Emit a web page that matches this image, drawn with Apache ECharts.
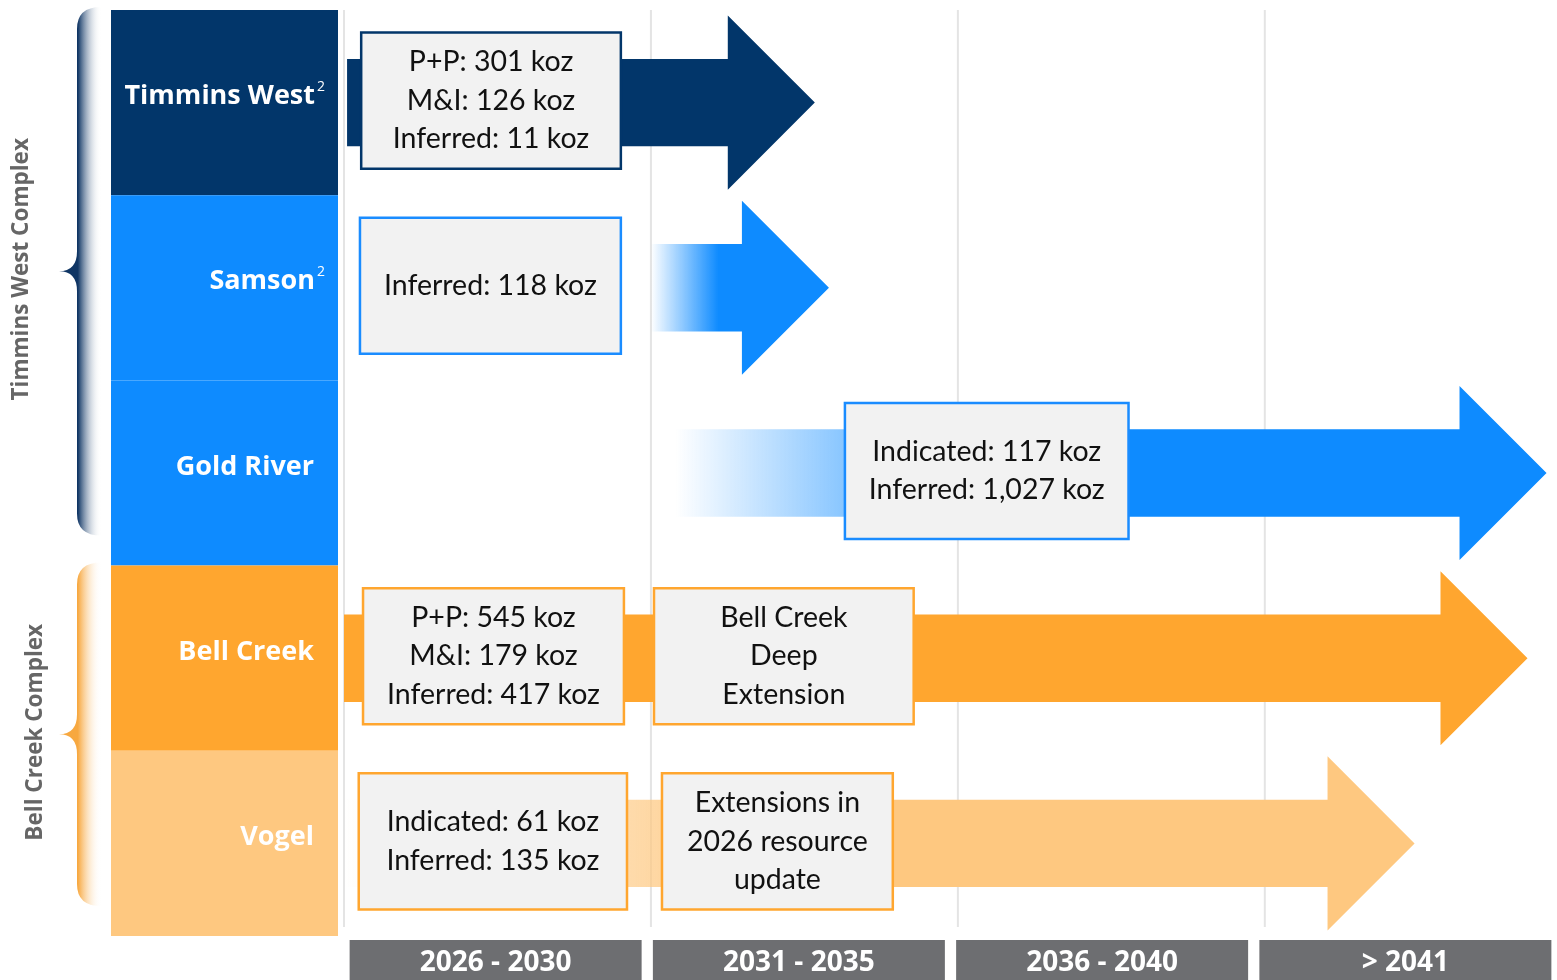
<!DOCTYPE html>
<html>
<head>
<meta charset="utf-8">
<script src="https://cdn.jsdelivr.net/npm/echarts@6/dist/echarts.min.js"></script>
<style>
  html, body { margin: 0; padding: 0; background: #fff; }
  #chart { width: 1557px; height: 980px; }
</style>
</head>
<body>
<div id="chart"></div>
<script>
// --- data ---
const rows = ['Timmins West', 'Samson', 'Gold River', 'Bell Creek', 'Vogel'];
const rowNotes = ['2', '2', '', '', ''];
const periods = ['2026 - 2030', '2031 - 2035', '2036 - 2040', '> 2041'];
const periodStarts = [2026, 2031, 2036, 2041];

// arrows: where they start, where the fade-in is fully coloured, where the tip is (years)
const arrowStart = [2026.05, 2031.0, 2031.4, 2026.0, 2026.0];
const arrowSolidFrom = [2026.05, 2032.1, 2037.0, 2026.0, 2033.0];
const arrowTip = [2033.67, 2033.9, 2045.59, 2045.28, 2043.44];

// resource boxes
const boxRow = [0, 1, 2, 3, 3, 4, 4];
const boxStart = [2026.28, 2026.26, 2034.16, 2026.31, 2031.05, 2026.24, 2031.18];
const boxEnd = [2030.51, 2030.51, 2038.78, 2030.56, 2035.28, 2030.61, 2034.94];
const boxText = [
  'P+P: 301 koz\nM&I: 126 koz\nInferred: 11 koz',
  'Inferred: 118 koz',
  'Indicated: 117 koz\nInferred: 1,027 koz',
  'P+P: 545 koz\nM&I: 179 koz\nInferred: 417 koz',
  'Bell Creek\nDeep\nExtension',
  'Indicated: 61 koz\nInferred: 135 koz',
  'Extensions in\n2026 resource\nupdate'
];

const groups = ['Timmins West Complex', 'Bell Creek Complex'];
const groupFirst = [0, 3];
const groupLast = [2, 4];

// --- style ---
const rowColors = ['#02366a', '#0e8bff', '#0e8bff', '#ffa62f', '#fec880'];
const boxBorders = ['#02366a', '#1a8cff', '#1a8cff', '#ffa62f', '#ffa62f'];
const groupColors = ['#0f3564', '#f7a840'];
const groupTextX = [-89, -75];
const boxFont = 'Lato';
const labelFont = '"Open Sans"';

function transparent(hex) {
  const n = parseInt(hex.slice(1), 16);
  return 'rgba(' + (n >> 16) + ',' + ((n >> 8) & 255) + ',' + (n & 255) + ',0)';
}

const chart = echarts.init(document.getElementById('chart'));

function renderColumns(params, api) {
  const p = api.coord([api.value(0), 0]);
  const cs = params.coordSys;
  return {
    type: 'line',
    shape: { x1: p[0], y1: cs.y, x2: p[0], y2: cs.y + cs.height - 9 },
    style: { stroke: '#e4e4e4', lineWidth: 2 }
  };
}

function renderArrow(params, api) {
  const row = api.value(0);
  const s = api.coord([api.value(1), row]);
  const f = api.coord([api.value(2), row]);
  const t = api.coord([api.value(3), row]);
  const band = api.size([0, 1])[1];
  const cy = s[1];
  const bh = band * 0.236, hh = band * 0.47;
  const xb = t[0] - hh;
  const pts = [[s[0], cy - bh], [xb, cy - bh], [xb, cy - hh], [t[0], cy],
               [xb, cy + hh], [xb, cy + bh], [s[0], cy + bh]];
  const color = rowColors[row];
  let fill = color;
  if (f[0] > s[0] + 1) {
    const off = (f[0] - s[0]) / (t[0] - s[0]);
    fill = new echarts.graphic.LinearGradient(0, 0, 1, 0, [
      { offset: 0, color: transparent(color) },
      { offset: off, color: color },
      { offset: 1, color: color }
    ]);
  }
  return { type: 'polygon', shape: { points: pts }, style: { fill: fill } };
}

function renderBox(params, api) {
  const row = api.value(0);
  const a = api.coord([api.value(1), row]);
  const b = api.coord([api.value(2), row]);
  const h = api.size([0, 1])[1] * 0.735;
  const cy = a[1] - 2;
  return {
    type: 'group',
    children: [
      {
        type: 'rect',
        shape: { x: a[0], y: cy - h / 2, width: b[0] - a[0], height: h },
        style: { fill: '#f2f2f2', stroke: boxBorders[row], lineWidth: 2.5 }
      },
      {
        type: 'text',
        style: {
          text: boxText[params.dataIndex], x: (a[0] + b[0]) / 2, y: cy,
          align: 'center', verticalAlign: 'middle',
          fontFamily: boxFont, fontSize: 28.5, lineHeight: 38.5, fill: '#111'
        }
      }
    ]
  };
}

function renderBracket(params, api) {
  const i = params.dataIndex;
  const top = api.coord([0, api.value(0)]);
  const bot = api.coord([0, api.value(1)]);
  const half = api.size([0, 1])[1] / 2;
  const left = top[0];
  const y0 = top[1] - half - 3, y1 = bot[1] + half - 30;
  const mid = (y0 + y1) / 2;
  const x0 = left - 34, x1 = left - 10, tip = left - 52, r = 22;
  const d = 'M' + x1 + ',' + y0 + ' Q' + x0 + ',' + y0 + ' ' + x0 + ',' + (y0 + r) +
    ' L' + x0 + ',' + (mid - 20) + ' Q' + x0 + ',' + mid + ' ' + tip + ',' + mid +
    ' Q' + x0 + ',' + mid + ' ' + x0 + ',' + (mid + 20) +
    ' L' + x0 + ',' + (y1 - r) + ' Q' + x0 + ',' + y1 + ' ' + x1 + ',' + y1 + ' Z';
  return {
    type: 'group',
    children: [
      {
        type: 'path',
        shape: { pathData: d },
        style: {
          fill: new echarts.graphic.LinearGradient(0, 0, 1, 0, [
            { offset: 0, color: groupColors[i] },
            { offset: 0.45, color: groupColors[i] },
            { offset: 1, color: 'rgba(255,255,255,0)' }
          ])
        }
      },
      {
        type: 'text',
        x: left + groupTextX[i], y: mid - 2, rotation: Math.PI / 2,
        style: {
          text: groups[i], align: 'center', verticalAlign: 'middle',
          fontFamily: labelFont, fontWeight: 'bold', fontSize: 22.5, fill: '#666'
        }
      }
    ]
  };
}

const option = {
  animation: false,
  grid: [
    { left: 111, width: 227, top: 10, bottom: 44, outerBoundsMode: 'none' },
    { left: 344, right: 0, top: 10, bottom: 44, outerBoundsMode: 'none' }
  ],
  xAxis: [
    { type: 'value', gridIndex: 0, min: 0, max: 1, show: false },
    { type: 'value', gridIndex: 1, min: 2026, max: 2045.76, show: false },
    {
      type: 'category', gridIndex: 1, position: 'bottom', data: periods,
      axisLine: { show: false }, axisTick: { show: false }, splitLine: { show: false },
      axisLabel: {
        interval: 0, margin: 4, color: '#fff', fontFamily: labelFont, fontWeight: 'bold',
        fontSize: 28, backgroundColor: '#6d6e71', width: 292, height: 46, lineHeight: 46,
        align: 'center'
      }
    }
  ],
  yAxis: [
    { type: 'category', gridIndex: 0, data: rows, inverse: true, show: false },
    { type: 'category', gridIndex: 1, data: rows, inverse: true, show: false }
  ],
  series: [
    {
      type: 'bar', xAxisIndex: 0, yAxisIndex: 0, barWidth: '100%',
      data: rows.map((r, i) => ({
        value: 1,
        itemStyle: { color: rowColors[i] },
        label: { offset: [rowNotes[i] ? 11 : 0, -6] }
      })),
      label: {
        show: true, position: 'insideRight', distance: 24,
        formatter: p => '{n|' + rows[p.dataIndex] + '}' + (rowNotes[p.dataIndex] ? '{s|' + rowNotes[p.dataIndex] + '}' : ''),
        rich: {
          n: { color: '#fff', fontFamily: labelFont, fontWeight: 'bold', fontSize: 27, lineHeight: 34 },
          s: { color: '#fff', fontFamily: labelFont, fontSize: 14, lineHeight: 20, verticalAlign: 'top', padding: [0, 0, 0, 2] }
        }
      }
    },
    {
      type: 'custom', xAxisIndex: 0, yAxisIndex: 0, clip: false,
      renderItem: renderBracket,
      encode: { y: [0, 1] },
      data: groups.map((g, i) => [groupFirst[i], groupLast[i]])
    },
    {
      type: 'custom', xAxisIndex: 1, yAxisIndex: 1, z: 1,
      renderItem: renderColumns,
      encode: { x: 0 },
      data: periodStarts.map(v => [v])
    },
    {
      type: 'custom', xAxisIndex: 1, yAxisIndex: 1, z: 2, clip: false,
      renderItem: renderArrow,
      encode: { x: [1, 2, 3], y: 0 },
      data: rows.map((r, i) => [i, arrowStart[i], arrowSolidFrom[i], arrowTip[i]])
    },
    {
      type: 'custom', xAxisIndex: 1, yAxisIndex: 1, z: 3, clip: false,
      renderItem: renderBox,
      encode: { x: [1, 2], y: 0 },
      data: boxRow.map((r, i) => [r, boxStart[i], boxEnd[i]])
    }
  ]
};

chart.setOption(option);
</script>
</body>
</html>
